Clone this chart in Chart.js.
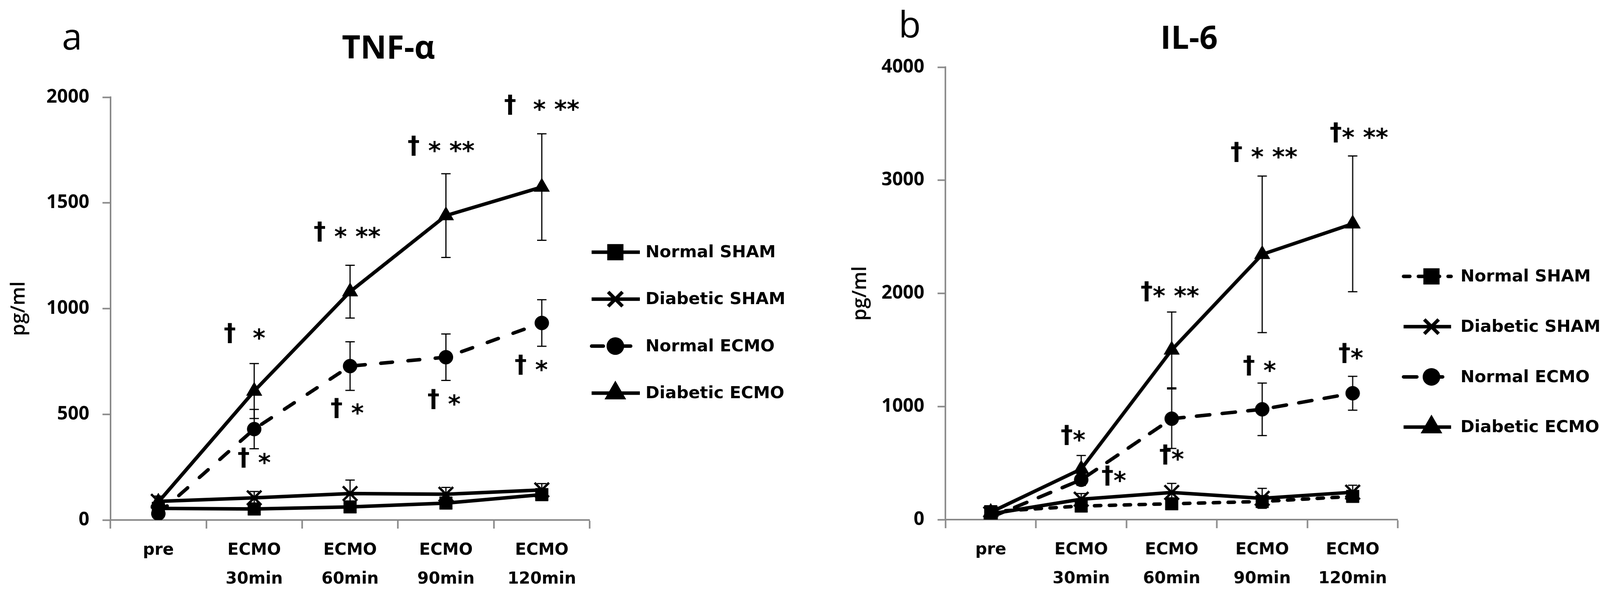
<!DOCTYPE html>
<html>
<head>
<meta charset="utf-8">
<script src="https://cdn.jsdelivr.net/npm/chart.js@4.4.0/dist/chart.umd.min.js"></script>
<style>
  html, body { margin: 0; padding: 0; background: #fff; overflow: hidden; }
  #wrap { position: relative; height: 1519px; }
  .panel { position: absolute; top: 0; height: 1519px; }
</style>
</head>
<body>
<div id="wrap">
  <div class="panel" id="pa"><canvas id="chartA"></canvas></div>
  <div class="panel" id="pb"><canvas id="chartB"></canvas></div>
</div>
<script>
// 数据 / data
const timeLabels = ['pre', ['ECMO', '30min'], ['ECMO', '60min'], ['ECMO', '90min'], ['ECMO', '120min']];
const seriesNames = ['Normal SHAM', 'Diabetic SHAM', 'Normal ECMO', 'Diabetic ECMO'];

// TNF-α
const tnfTicks = [0, 500, 1000, 1500, 2000];
const tnfNormalSham = [55, 52, 62, 80, 120];
const tnfNormalShamSd = [8, 8, 10, 12, 15];
const tnfDiabeticSham = [88, 105, 125, 122, 142];
const tnfDiabeticShamSd = [25, 30, 64, 32, 30];
const tnfNormalEcmo = [30, 430, 728, 770, 932];
const tnfNormalEcmoSd = [15, 93, 115, 110, 110];
const tnfDiabeticEcmo = [85, 610, 1080, 1440, 1575];
const tnfDiabeticEcmoSd = [20, 130, 125, 198, 252];
// [时间点, 值, 标记, 偏移]
const tnfMarks = [
  [1, 877, '†  *', -0.1], [1, 288, '† *', 0],
  [2, 1357, '† * **', -0.03], [2, 523, '† *', -0.03],
  [3, 1764, '† * **', -0.05], [3, 565, '† *', -0.02],
  [4, 1958, '†  * **', 0], [4, 728, '† *', -0.11]
];

// IL-6
const ilTicks = [0, 1000, 2000, 3000, 4000];
const ilNormalSham = [70, 120, 140, 160, 205];
const ilNormalShamSd = [15, 25, 30, 30, 35];
const ilDiabeticSham = [50, 180, 240, 188, 242];
const ilDiabeticShamSd = [20, 50, 80, 88, 62];
const ilNormalEcmo = [20, 352, 892, 975, 1117];
const ilNormalEcmoSd = [10, 50, 263, 232, 150];
const ilDiabeticEcmo = [65, 447, 1500, 2345, 2615];
const ilDiabeticEcmoSd = [15, 120, 335, 692, 600];
const ilMarks = [
  [1, 735, '†*', -0.09], [1, 376, '†*', 0.36],
  [2, 2007, '†* **', -0.02], [2, 564, '†*', 0],
  [3, 3236, '† * **', 0.02], [3, 1349, '† *', -0.03],
  [4, 3410, '†* **', 0.07], [4, 1460, '†*', -0.02]
];

// 视口比例：原图宽 4246
const SX = Math.min(1, window.innerWidth / 4246);
const X = v => v * SX;
const AXIS_GREY = '#898989';

const wrap = document.getElementById('wrap');
wrap.style.width = X(4246) + 'px';
const pa = document.getElementById('pa'), pb = document.getElementById('pb');
pa.style.left = '0px'; pa.style.width = X(2120) + 'px';
pb.style.left = X(2120) + 'px'; pb.style.width = X(2126) + 'px';

const pointLook = [
  { pointStyle: 'rect', radius: 23, border: 1 },
  { pointStyle: 'crossRot', radius: 26, border: 6 },
  { pointStyle: 'circle', radius: 18, border: 1 },
  { pointStyle: 'triangle', radius: 23, border: 1 }
];

function buildDatasets(values, dashes) {
  return values.map((v, i) => ({
    label: seriesNames[i],
    data: v,
    borderColor: '#000',
    backgroundColor: '#000',
    borderWidth: 9,
    borderDash: dashes[i],
    borderCapStyle: dashes[i].length ? 'round' : 'butt',
    pointStyle: pointLook[i].pointStyle,
    pointRadius: pointLook[i].radius,
    pointHoverRadius: pointLook[i].radius,
    pointBorderWidth: pointLook[i].border,
    pointBackgroundColor: '#000',
    pointBorderColor: '#000',
    tension: 0,
    fill: false
  }));
}

// 误差线
function errorBars(sds) {
  return {
    id: 'errorBars',
    afterDatasetsDraw(chart) {
      const ctx = chart.ctx;
      const y = chart.scales.y;
      ctx.save();
      ctx.strokeStyle = '#000';
      ctx.lineWidth = 3;
      ctx.setLineDash([]);
      chart.data.datasets.forEach((ds, i) => {
        const meta = chart.getDatasetMeta(i);
        ds.data.forEach((v, j) => {
          const sd = sds[i][j];
          if (!sd) return;
          const x = meta.data[j].x;
          const yt = y.getPixelForValue(v + sd);
          const yb = y.getPixelForValue(v - sd);
          ctx.beginPath();
          ctx.moveTo(x, yt); ctx.lineTo(x, yb);
          ctx.moveTo(x - 12, yt); ctx.lineTo(x + 12, yt);
          ctx.moveTo(x - 12, yb); ctx.lineTo(x + 12, yb);
          ctx.stroke();
        });
      });
      ctx.restore();
    }
  };
}

// 显著性标记
function sigMarks(list) {
  return {
    id: 'sigMarks',
    afterDatasetsDraw(chart) {
      const ctx = chart.ctx;
      const xs = chart.scales.x, ys = chart.scales.y;
      const size = Math.round(64 * SX);
      const step = xs.getPixelForValue(1) - xs.getPixelForValue(0);
      ctx.save();
      ctx.fillStyle = '#000';
      ctx.font = 'bold ' + size + 'px "DejaVu Sans"';
      ctx.textBaseline = 'middle';
      ctx.textAlign = 'left';
      list.forEach(([idx, val, text, dx]) => {
        const cx = xs.getPixelForValue(idx) + dx * step;
        const cy = ys.getPixelForValue(val);
        let x = cx - ctx.measureText(text).width / 2;
        for (const ch of text) {
          ctx.fillText(ch, x, ch === '*' ? cy + size * 0.22 : cy);
          x += ctx.measureText(ch).width;
        }
      });
      ctx.restore();
    }
  };
}

// 图例
function lineLegend(o) {
  return {
    id: 'lineLegend',
    afterDraw(chart) {
      const ctx = chart.ctx;
      const x0 = chart.chartArea.right + X(o.gap);
      ctx.save();
      chart.data.datasets.forEach((ds, i) => {
        const y = o.top + i * o.step;
        ctx.strokeStyle = '#000';
        ctx.fillStyle = '#000';
        ctx.lineWidth = 9;
        ctx.lineCap = ds.borderCapStyle;
        ctx.setLineDash(ds.borderDash);
        ctx.beginPath();
        ctx.moveTo(x0, y); ctx.lineTo(x0 + X(o.len), y);
        ctx.stroke();
        ctx.setLineDash([]);
        Chart.helpers.drawPoint(ctx, {
          pointStyle: ds.pointStyle, radius: ds.pointRadius,
          rotation: 0, borderWidth: ds.pointBorderWidth
        }, x0 + X(o.marker), y);
        ctx.font = 'bold ' + Math.round(45 * SX) + 'px "DejaVu Sans"';
        ctx.textBaseline = 'middle';
        ctx.textAlign = 'left';
        ctx.fillText(ds.label, x0 + X(o.text), y + 2);
      });
      ctx.restore();
    }
  };
}

// 标题与面板字母
function headings(o) {
  return {
    id: 'headings',
    afterDraw(chart) {
      const ctx = chart.ctx;
      ctx.save();
      ctx.fillStyle = '#000';
      ctx.textAlign = 'center';
      ctx.textBaseline = 'alphabetic';
      ctx.font = Math.round(96 * SX) + 'px "Open Sans"';
      ctx.fillText(o.letter, X(o.lx), o.lb);
      ctx.font = 'bold ' + Math.round(85 * SX) + 'px "Open Sans"';
      ctx.fillText(o.title, X(o.tx), o.tb);
      ctx.restore();
    }
  };
}

function makeChart(id, p) {
  return new Chart(document.getElementById(id), {
    type: 'line',
    data: { labels: timeLabels, datasets: buildDatasets(p.values, p.dashes) },
    options: {
      responsive: true,
      maintainAspectRatio: false,
      devicePixelRatio: 1,
      animation: false,
      layout: { padding: { left: X(p.padding.left), right: X(p.padding.right), top: p.padding.top, bottom: 0 } },
      plugins: { legend: { display: false }, tooltip: { enabled: false } },
      scales: {
        x: {
          type: 'category',
          offset: true,
          grid: { offset: true, drawOnChartArea: false, tickLength: 22, tickWidth: 4, tickColor: AXIS_GREY },
          border: { color: AXIS_GREY, width: 4 },
          ticks: {
            color: '#000', padding: 19, maxRotation: 0, autoSkip: false,
            font: { family: 'DejaVu Sans', weight: 'bold', size: Math.round(44 * SX), lineHeight: 74 / Math.round(44 * SX) }
          },
          afterFit: s => { s.height = p.xHeight; }
        },
        y: {
          min: p.ticks[0],
          max: p.ticks[p.ticks.length - 1],
          afterBuildTicks: s => { s.ticks = p.ticks.map(v => ({ value: v })); },
          grid: { drawOnChartArea: false, tickLength: X(21), tickWidth: 4, tickColor: AXIS_GREY },
          border: { color: AXIS_GREY, width: 4 },
          ticks: {
            color: '#000', padding: X(35), font: { family: 'Open Sans', weight: 'bold', size: 48 },
            callback: v => String(v)
          },
          title: {
            display: true, text: 'pg/ml', color: '#000', padding: 0,
            font: { family: 'Open Sans', weight: '600', size: 50 }
          },
          afterFit: s => { s.width = X(p.yWidth); }
        }
      }
    },
    plugins: [errorBars(p.sds), sigMarks(p.marks), lineLegend(p.legend), headings(p.head)]
  });
}

makeChart('chartA', {
  values: [tnfNormalSham, tnfDiabeticSham, tnfNormalEcmo, tnfDiabeticEcmo],
  sds: [tnfNormalShamSd, tnfDiabeticShamSd, tnfNormalEcmoSd, tnfDiabeticEcmoSd],
  dashes: [[], [], [30, 40], []],
  ticks: tnfTicks,
  marks: tnfMarks,
  padding: { left: 19, right: 555, top: 249 },
  yWidth: 274,
  xHeight: 187,
  legend: { gap: 5, len: 128, marker: 63, text: 143, top: 646, step: 120.3 },
  head: { letter: 'a', lx: 191, lb: 127, title: 'TNF-α', tx: 1031, tb: 150 }
});

makeChart('chartB', {
  values: [ilNormalSham, ilDiabeticSham, ilNormalEcmo, ilDiabeticEcmo],
  sds: [ilNormalShamSd, ilDiabeticShamSd, ilNormalEcmoSd, ilDiabeticEcmoSd],
  dashes: [[16, 22], [], [34, 32], []],
  ticks: ilTicks,
  marks: ilMarks,
  padding: { left: 132, right: 537, top: 172 },
  yWidth: 257,
  xHeight: 188,
  legend: { gap: 15, len: 126, marker: 74, text: 151, top: 708, step: 128.7 },
  head: { letter: 'b', lx: 294, lb: 96, title: 'IL-6', tx: 1035, tb: 125 }
});
</script>
</body>
</html>
